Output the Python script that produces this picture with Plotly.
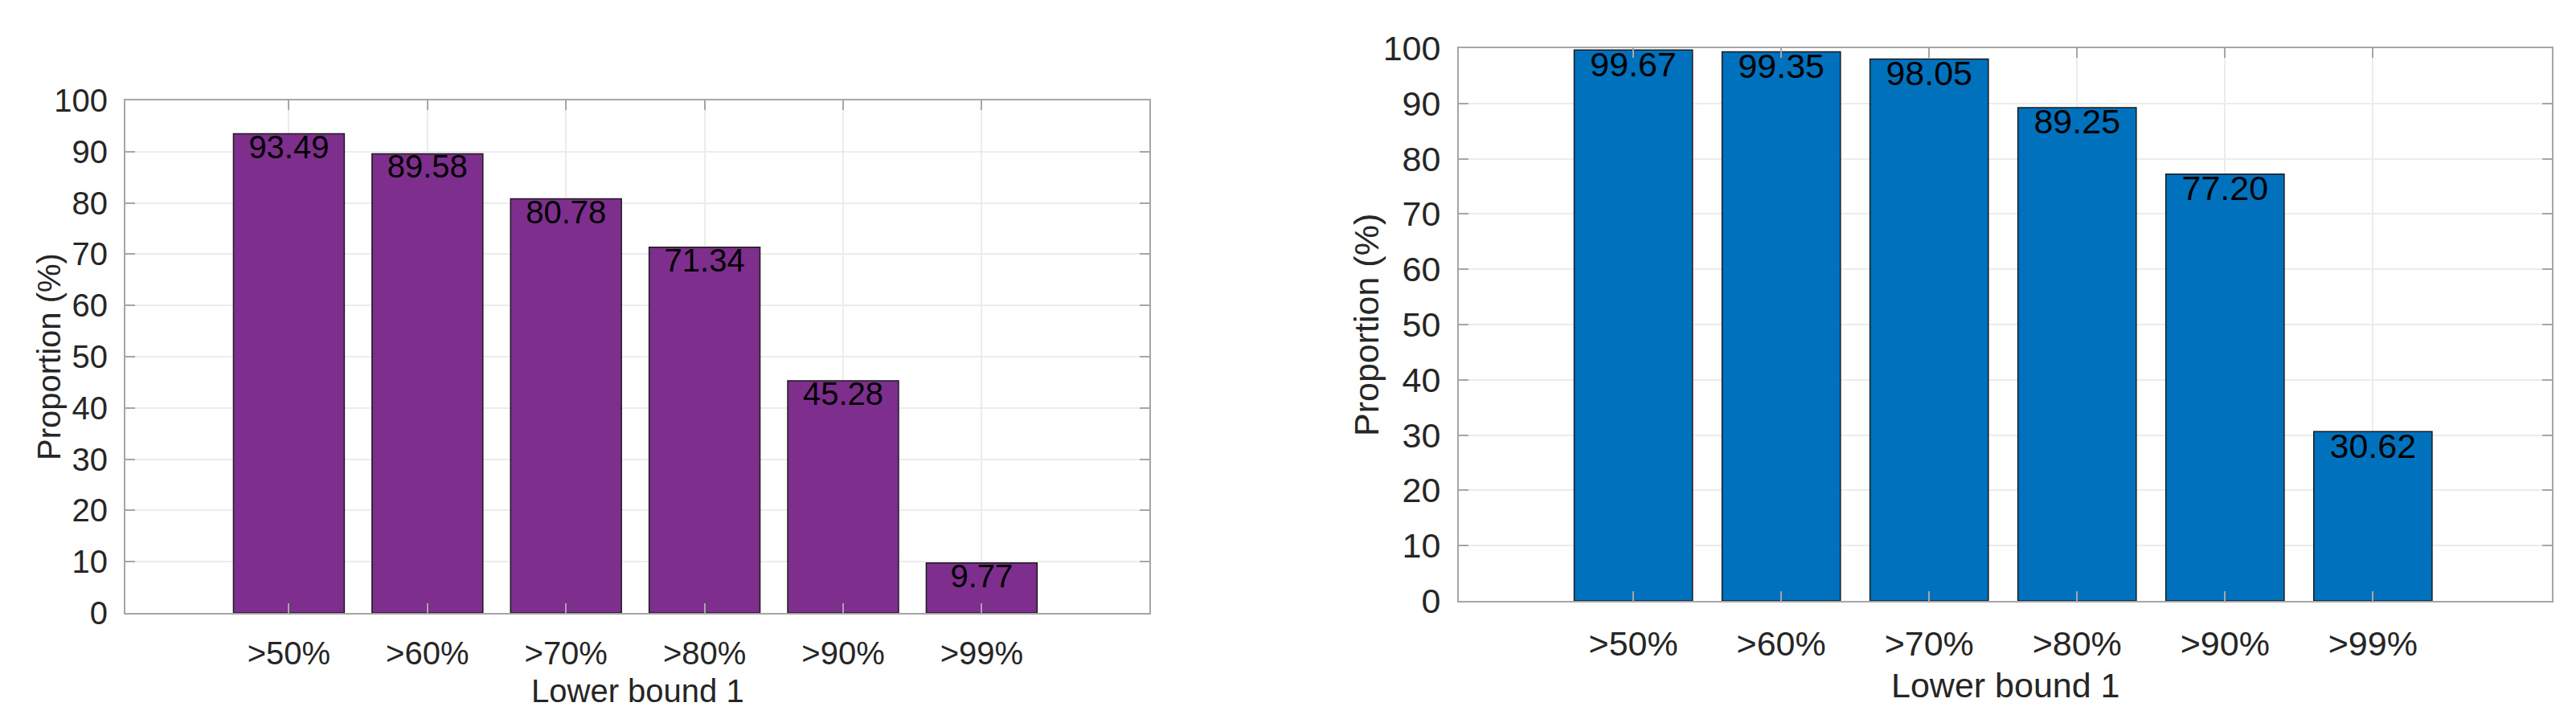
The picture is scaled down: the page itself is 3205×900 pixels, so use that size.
import plotly.graph_objects as go

categories = [">50%", ">60%", ">70%", ">80%", ">90%", ">99%"]
left_values = [93.49, 89.58, 80.78, 71.34, 45.28, 9.77]
right_values = [99.67, 99.35, 98.05, 89.25, 77.20, 30.62]
y_ticks = [0, 10, 20, 30, 40, 50, 60, 70, 80, 90, 100]
x_title = "Lower bound 1"
y_title = "Proportion (%)"

W, H = 3205, 900
FONT = "Liberation Sans, Arial, sans-serif"
TXT = "#262626"
PURPLE = "#7E2F8E"
BLUE = "#0072BD"

fig = go.Figure()

panels = [
    dict(vals=left_values, color=PURPLE, xa="x", ya="y", fs=40,
         px=(148, 1422), py=(117, 755)),
    dict(vals=right_values, color=BLUE, xa="x2", ya="y2", fs=43,
         px=(1807, 3167), py=(52, 740)),
]

for p in panels:
    fig.add_trace(go.Bar(
        x=categories, y=p["vals"], width=0.8,
        marker=dict(color=p["color"], line=dict(color="#1a1a1a", width=1.5)),
        xaxis=p["xa"], yaxis=p["ya"], showlegend=False, hoverinfo="skip",
    ))
    fig.add_trace(go.Scatter(
        x=categories, y=p["vals"], mode="text",
        text=[f"{v:.2f}" for v in p["vals"]],
        textposition="bottom center",
        textfont=dict(family=FONT, size=p["fs"], color="#000000"),
        xaxis=p["xa"], yaxis=p["ya"], showlegend=False, hoverinfo="skip",
        cliponaxis=False,
    ))

layout = dict(
    template="none",
    width=W, height=H, margin=dict(l=0, r=0, t=0, b=0, autoexpand=False),
    paper_bgcolor="white", plot_bgcolor="white",
    font=dict(family=FONT, color=TXT),
    annotations=[],
)

for i, p in enumerate(panels):
    sfx = "" if i == 0 else "2"
    x0, x1 = p["px"]
    y0, y1 = p["py"]
    xdom = [x0 / W, x1 / W]
    ydom = [1 - y1 / H, 1 - y0 / H]
    axis_common = dict(
        automargin=False,
        showline=True, linecolor="#a6a6a6", linewidth=2, mirror="ticks",
        ticks="inside", ticklen=12, tickcolor="#a6a6a6", tickwidth=1.5,
        showgrid=True, gridcolor="#ececec", gridwidth=1.5, zeroline=False,
        tickfont=dict(family=FONT, size=p["fs"], color=TXT),
    )
    layout["xaxis" + sfx] = dict(
        axis_common, domain=xdom, anchor="y" + sfx,
        type="category", range=[-1.18, 6.21], ticklabelstandoff=14,
    )
    layout["yaxis" + sfx] = dict(
        axis_common, domain=ydom, anchor="x" + sfx,
        range=[0, 100], tickvals=y_ticks, ticklabelstandoff=12,
    )
    # axis titles
    layout["annotations"].append(dict(
        text=x_title, xref="paper", yref="paper",
        x=(x0 + x1) / 2 / W, y=1 - (y1 + (97 if i == 0 else 105)) / H,
        xanchor="center", yanchor="middle", showarrow=False,
        font=dict(family=FONT, size=p["fs"], color=TXT),
    ))
    layout["annotations"].append(dict(
        text=y_title, xref="paper", yref="paper",
        x=(x0 - (95 if i == 0 else 115)) / W, y=1 - (y0 + y1) / 2 / H,
        xanchor="center", yanchor="middle", textangle=-90, showarrow=False,
        font=dict(family=FONT, size=p["fs"], color=TXT),
    ))

fig.update_layout(layout)
fig.write_html("out.html")
